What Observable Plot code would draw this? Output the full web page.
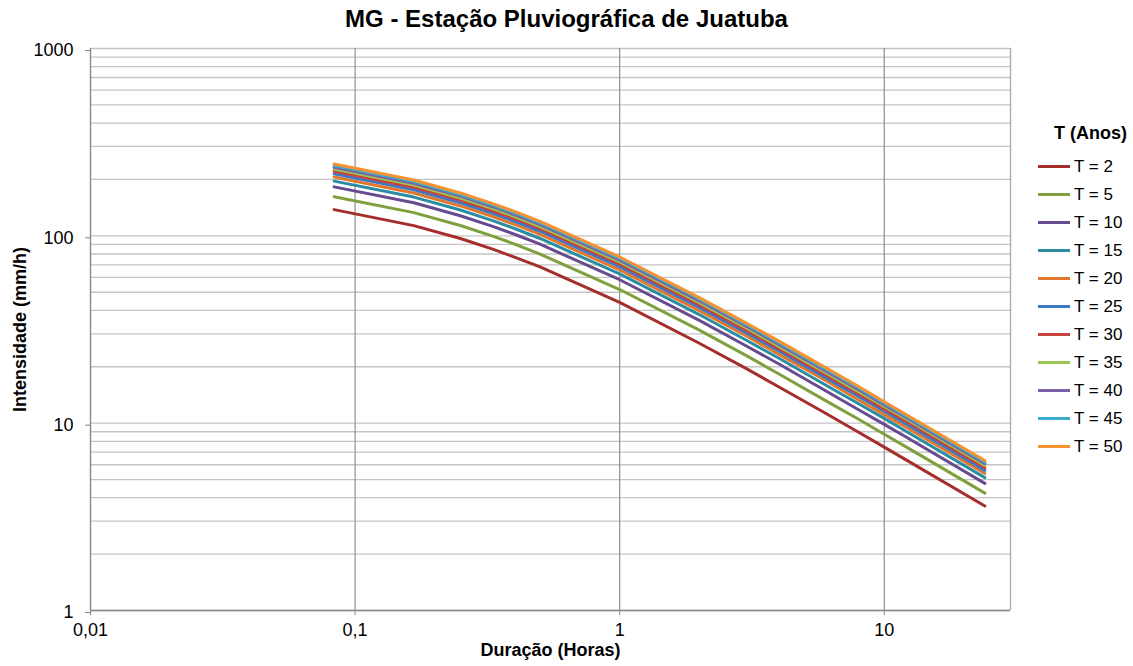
<!DOCTYPE html>
<html><head><meta charset="utf-8">
<script src="https://cdn.jsdelivr.net/npm/d3@7"></script>
<script src="https://cdn.jsdelivr.net/npm/@observablehq/plot@0.6"></script>
<style>
body{margin:0;background:#fff;font-family:"Liberation Sans",Arial,sans-serif;}
#wrap{position:relative;width:1133px;height:666px;overflow:hidden;}
#chart{position:absolute;left:0;top:0;}
#title{position:absolute;top:5px;left:0;width:1133px;text-align:center;font-weight:bold;font-size:24px;color:#000;}
#legend{position:absolute;left:1030px;top:120px;width:103px;font-size:17px;color:#000;}
#legend .ttl{font-weight:bold;text-align:center;height:32.7px;line-height:26px;padding-left:18px;font-size:18px;white-space:nowrap;}
#legend .it{display:flex;align-items:center;height:28px;}
#legend .sw{width:32px;height:3px;margin-left:8px;margin-right:4px;}
</style></head>
<body><div id="wrap"><div id="chart"></div><div id="title"></div><div id="legend"></div></div>
<script>
const title = "MG - Estação Pluviográfica de Juatuba";
const xLabel = "Duração (Horas)";
const yLabel = "Intensidade (mm/h)";
const legendTitle = "T (Anos)";
const durationsMin = [5,10,15,20,25,30,60,120,180,240,360,480,600,720,1440];
const seriesNames = ["T = 2","T = 5","T = 10","T = 15","T = 20","T = 25","T = 30","T = 35","T = 40","T = 45","T = 50"];
const colors = ["#A52E2B","#7FA03E","#674A90","#2A8CA3","#E0772A","#3C78C8","#C8413D","#9BC54E","#7D5FA8","#3AACCB","#F79232"];
const T2  = [138.0,113.4,96.8,84.6,75.4,68.2,44.1,26.7,19.6,15.6,11.3,8.94,7.45,6.41,3.61];
const T5  = [161.8,133.0,113.5,99.3,88.5,79.9,51.7,31.4,23.0,18.3,13.2,10.5,8.73,7.52,4.23];
const T10 = [182.6,150.1,128.0,112.0,99.8,90.2,58.3,35.4,25.9,20.7,14.9,11.8,9.85,8.49,4.77];
const T15 = [195.9,161.0,137.4,120.2,107.1,96.8,62.6,38.0,27.8,22.2,16.0,12.7,10.6,9.11,5.12];
const T20 = [206.0,169.3,144.4,126.4,112.6,101.7,65.8,39.9,29.3,23.3,16.9,13.3,11.1,9.57,5.39];
const T25 = [214.1,176.0,150.2,131.4,117.1,105.8,68.4,41.5,30.4,24.3,17.5,13.9,11.6,9.95,5.60];
const T30 = [221.0,181.7,155.0,135.6,120.8,109.2,70.6,42.8,31.4,25.0,18.1,14.3,11.9,10.3,5.78];
const T35 = [227.0,186.6,159.2,139.3,124.1,112.1,72.5,44.0,32.3,25.7,18.6,14.7,12.3,10.6,5.94];
const T40 = [232.4,191.0,162.9,142.6,127.1,114.8,74.2,45.0,33.0,26.3,19.0,15.1,12.5,10.8,6.08];
const T45 = [237.2,195.0,166.3,145.5,129.7,117.2,75.7,46.0,33.7,26.9,19.4,15.4,12.8,11.0,6.20];
const T50 = [241.6,198.6,169.4,148.2,132.1,119.3,77.1,46.8,34.3,27.4,19.8,15.7,13.0,11.2,6.32];
const seriesValues = [T2,T5,T10,T15,T20,T25,T30,T35,T40,T45,T50];
const xTicks = [0.01,0.1,1,10];
const yTicks = [1,10,100,1000];
const yGrid = [1,2,3,4,5,6,7,8,9,10,20,30,40,50,60,70,80,90,100,200,300,400,500,600,700,800,900,1000];

const rows = [];
seriesNames.forEach((name, s) => {
  durationsMin.forEach((m, i) => rows.push({series: name, x: m / 60, y: seriesValues[s][i]}));
});

const chart = Plot.plot({
  width: 1133, height: 666,
  marginLeft: 90, marginRight: 123, marginTop: 48, marginBottom: 56,
  style: {fontFamily: "'Liberation Sans', Arial, sans-serif", fontSize: "18px", color: "#000", background: "#fff"},
  x: {type: "log", domain: [0.01, 30]},
  y: {type: "log", domain: [1, 1000]},
  color: {domain: seriesNames, range: colors},
  marks: [
    Plot.ruleY(yGrid, {stroke: "#c4c4c4", strokeWidth: 1.3}),
    Plot.ruleX(xTicks.slice(1), {stroke: "#8f8f8f", strokeWidth: 1.2}),
    Plot.ruleX([30], {stroke: "#a8a8a8", strokeWidth: 1.3}),
    Plot.ruleX([0.01], {stroke: "#888", strokeWidth: 1.4}),
    Plot.ruleY([1], {stroke: "#888", strokeWidth: 1.4}),
    Plot.axisX({ticks: xTicks, tickFormat: d => String(d).replace(".", ","), tickSize: 5, tickPadding: 8, stroke: "#888", label: null}),
    Plot.axisY({ticks: yTicks, tickFormat: d => String(d), tickSize: 5, tickPadding: 12, stroke: "#888", dy: 2, label: null}),
    Plot.line(rows, {x: "x", y: "y", z: "series", stroke: "series", strokeWidth: 3, curve: "linear"}),
    Plot.text([xLabel], {frameAnchor: "bottom", lineAnchor: "middle", textAnchor: "middle", dy: 40, fontWeight: "bold", fontSize: 18}),
    Plot.text([yLabel], {frameAnchor: "left", textAnchor: "middle", lineAnchor: "middle", dx: -70, rotate: -90, fontWeight: "bold", fontSize: 18})
  ]
});
document.getElementById("chart").appendChild(chart);
document.getElementById("title").textContent = title;

const leg = document.getElementById("legend");
const t = document.createElement("div"); t.className = "ttl"; t.textContent = legendTitle; leg.appendChild(t);
seriesNames.forEach((n, i) => {
  const d = document.createElement("div"); d.className = "it";
  const sw = document.createElement("div"); sw.className = "sw"; sw.style.background = colors[i];
  const tx = document.createElement("span"); tx.textContent = n;
  d.appendChild(sw); d.appendChild(tx); leg.appendChild(d);
});
</script></body></html>
